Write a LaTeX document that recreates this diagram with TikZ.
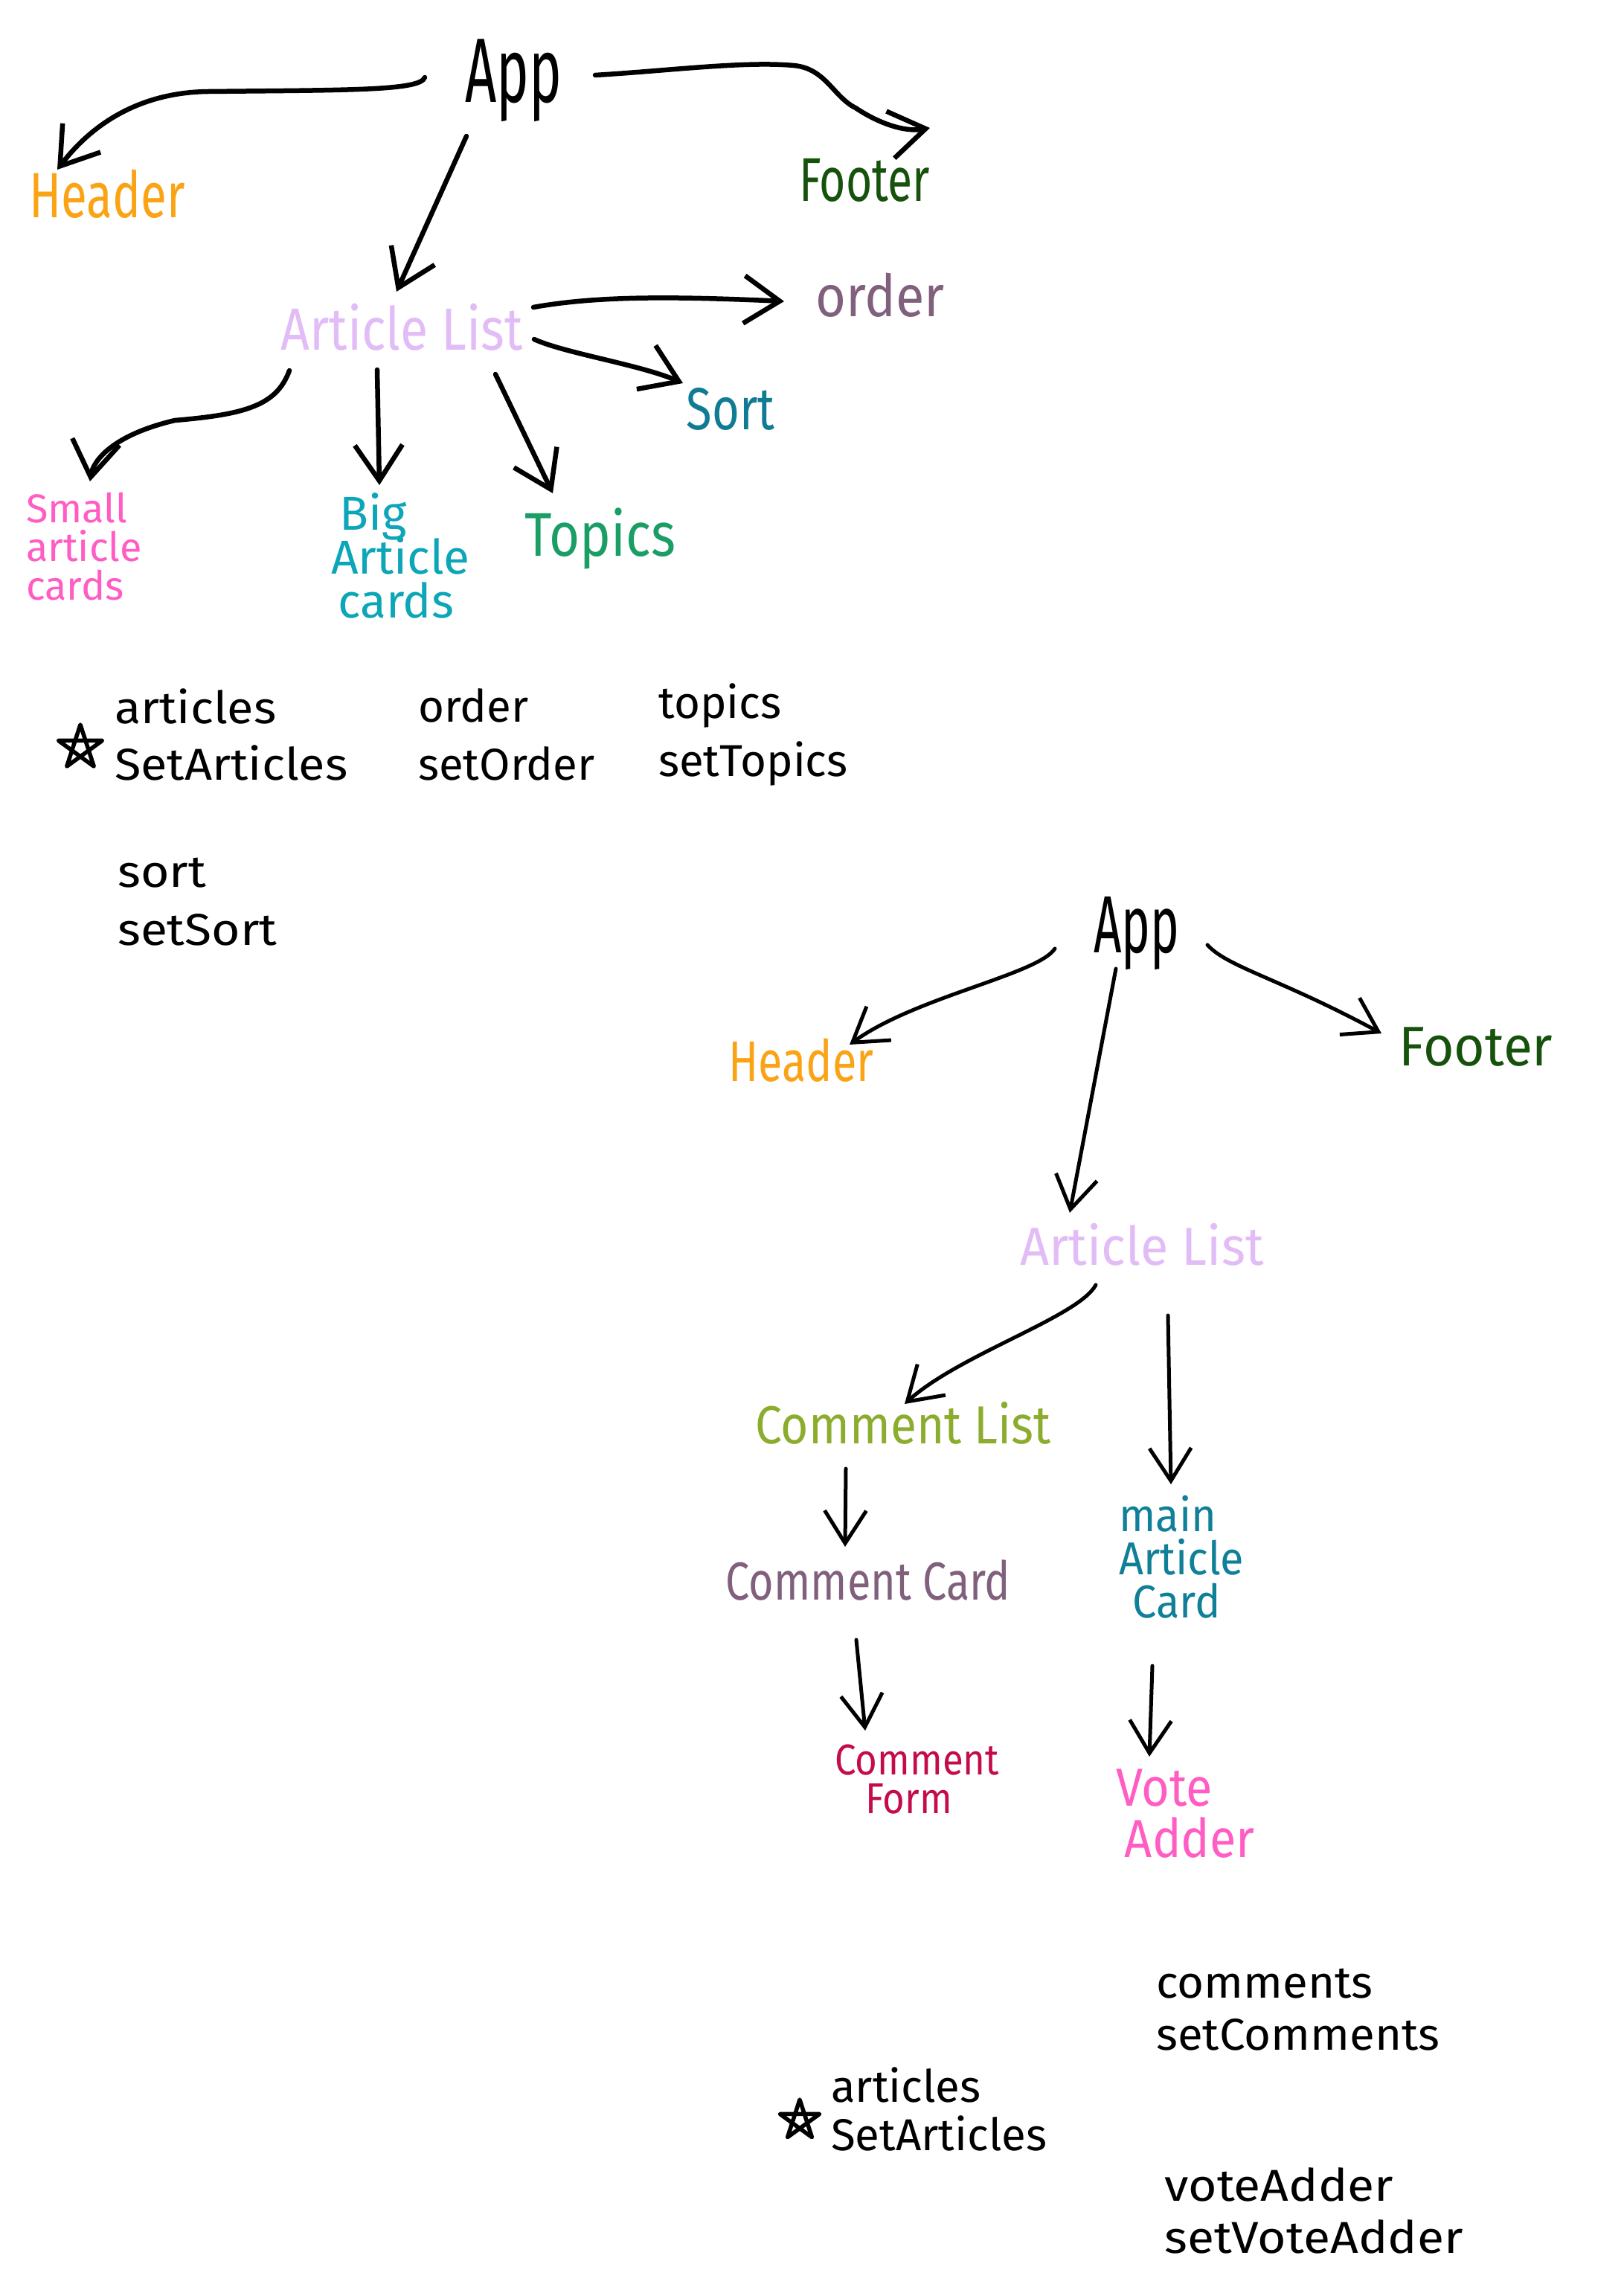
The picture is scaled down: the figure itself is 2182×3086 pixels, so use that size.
\documentclass[tikz,border=0pt]{standalone}
\usepackage{fontspec}
\setmainfont{Fira Sans}
\usetikzlibrary{arrows.meta,calc}
\definecolor{cHeader}{RGB}{250,163,20}
\definecolor{cFooter}{RGB}{22,82,12}
\definecolor{cAL}{RGB}{226,188,246}
\definecolor{cOrder}{RGB}{128,96,124}
\definecolor{cSort}{RGB}{16,124,148}
\definecolor{cPink}{RGB}{255,92,196}
\definecolor{cBig}{RGB}{12,166,184}
\definecolor{cTopics}{RGB}{26,158,102}
\definecolor{cOlive}{RGB}{140,172,46}
\definecolor{cCrimson}{RGB}{196,12,76}
\definecolor{cTeal}{RGB}{16,128,152}
\newcommand\hw[2]{\scalebox{#1}[1]{#2}}
\newcommand\fs[2]{\fontsize{#1}{#2}\selectfont}
\newcommand\stk[2]{\vtop{\baselineskip=#1\lineskiplimit=-1000pt\lineskip=0pt #2}}
\begin{document}
\begin{tikzpicture}[x=1pt,y=-1pt,
  lbl/.style={inner sep=0pt, anchor=base},
  lblw/.style={inner sep=0pt, anchor=base west},
  arrT/.style={line width=6.5pt, line cap=round, line join=round, -{Straight Barb[length=48pt,width=64pt]}},
  arrB/.style={line width=5pt, line cap=round, line join=round, -{Straight Barb[length=44pt,width=56pt]}},
  starpen/.style={line width=5.5pt, line cap=round, line join=round},
]
\fill[white] (0,0) rectangle (2182,3086);
\useasboundingbox (0,0) rectangle (2182,3086);

% ---------- top diagram ----------
\node[lbl, font=\fs{123}{123}] (app1) at (690,137) {\hw{.6}{App}};
\node[lbl, text=cHeader, font=\fs{86}{86}] (hdr1) at (144,292) {\hw{.74}{Header}};
\node[lbl, text=cFooter, font=\fs{83}{83}] (ftr1) at (1162,270) {\hw{.73}{Footer}};
\node[lbl, text=cAL, font=\fs{80}{80}] (al1) at (540,470) {\hw{.85}{Article List}};
\node[lbl, text=cOrder, font=\fs{78}{78}] (ord) at (1183,425) {\hw{.9}{order}};
\node[lbl, text=cSort, font=\fs{80}{80}] (srt) at (982,577) {\hw{.79}{Sort}};
\node[lblw, text=cPink, font=\fs{54}{52}] (sac) at (35,702) {\hw{1.0}{\stk{52pt}{\hbox{Small}\hbox{article}\hbox{cards}}}};
\node[lblw, text=cBig, font=\fs{64}{59}] (bac) at (445,712) {\hw{1.0}{\stk{59pt}{\hbox{\hspace{11pt}Big}\hbox{Article}\hbox{\hspace{9pt}cards}}}};
\node[lbl, text=cTopics, font=\fs{83}{83}] (top) at (807,747) {\hw{.85}{Topics}};

\draw[arrT] ($(app1.base)+(-119,-33)$) .. controls (565,122) and (470,121) .. (280,123) .. controls (190,124) and (125,165) .. ($(hdr1.base)+(-67,-64)$);
\draw[arrT] ($(app1.base)+(110,-36)$) .. controls (900,95) and (1000,82) .. (1067,88) .. controls (1110,92) and (1120,130) .. (1150,145) .. controls (1180,165) and (1215,178) .. ($(ftr1.base)+(88,-98)$);
\draw[arrT] ($(app1.base)+(-63,46)$) -- ($(al1.base)+(-7,-78)$);
\draw[arrT] ($(al1.base)+(177,-57)$) .. controls (800,398) and (900,398) .. ($(ord.base)+(-129,-20)$);
\draw[arrT] ($(al1.base)+(178,-14)$) .. controls (760,475) and (860,490) .. ($(srt.base)+(-64,-62)$);
\draw[arrT] ($(al1.base)+(-151,28)$) .. controls (372,545) and (330,557) .. (235,565) .. controls (150,585) and (125,620) .. ($(sac.base west)+(86,-55)$);
\draw[arrT] ($(al1.base)+(-33,27)$) -- ($(bac.base west)+(65,-60)$);
\draw[arrT] ($(al1.base)+(126,33)$) -- ($(top.base)+(-64,-84)$);

% notes top
\node[lblw, font=\fs{60}{76}] (nA) at (154,972) {\hw{1.08}{\stk{76pt}{\hbox{articles}\hbox{SetArticles}}}};
\node[lblw, font=\fs{60}{78}] (nO) at (562,970) {\hw{1.0}{\stk{78pt}{\hbox{order}\hbox{setOrder}}}};
\node[lblw, font=\fs{60}{78}] (nT) at (885,965) {\hw{1.0}{\stk{78pt}{\hbox{topics}\hbox{setTopics}}}};
\node[lblw, font=\fs{60}{78}] (nS) at (158,1192) {\hw{1.1}{\stk{78pt}{\hbox{sort}\hbox{setSort}}}};
\coordinate (st1) at (108,1005);
\draw[starpen] ($(st1)+(270:31)$) -- ($(st1)+(54:31)$) -- ($(st1)+(198:31)$) -- ($(st1)+(342:31)$) -- ($(st1)+(126:31)$) -- cycle;

% ---------- bottom diagram ----------
\node[lbl, font=\fs{109}{109}] (app2) at (1528,1280) {\hw{.6}{App}};
\node[lbl, text=cHeader, font=\fs{77}{77}] (hdr2) at (1077,1453) {\hw{.77}{Header}};
\node[lbl, text=cFooter, font=\fs{75}{75}] (ftr2) at (1984,1432) {\hw{.95}{Footer}};
\node[lbl, text=cAL, font=\fs{72}{72}] (al2) at (1535,1700) {\hw{.95}{Article List}};
\node[lbl, text=cOlive, font=\fs{72}{72}] (cl) at (1214,1940) {\hw{.89}{Comment List}};
\node[lbl, text=cOrder, font=\fs{72}{72}] (cc) at (1167,2150) {\hw{.8}{Comment Card}};
\node[lblw, text=cCrimson, font=\fs{58}{52}] (cf) at (1122,2385) {\hw{.88}{\stk{52pt}{\hbox{Comment}\hbox{\hspace{47pt}Form}}}};
\node[lblw, text=cTeal, font=\fs{62}{58}] (mac) at (1504,2058) {\hw{.93}{\stk{58pt}{\hbox{main}\hbox{Article}\hbox{\hspace{20pt}Card}}}};
\node[lblw, text=cPink, font=\fs{72}{69}] (va) at (1500,2427) {\hw{.9}{\stk{69pt}{\hbox{Vote}\hbox{\hspace{13pt}Adder}}}};

\draw[arrB] ($(app2.base)+(-110,-5)$) .. controls (1395,1310) and (1230,1340) .. ($(hdr2.base)+(65,-49)$);
\draw[arrB] ($(app2.base)+(95,-10)$) .. controls (1650,1300) and (1720,1315) .. ($(ftr2.base)+(-127,-43)$);
\draw[arrB] ($(app2.base)+(-28,22)$) -- ($(al2.base)+(-97,-70)$);
\draw[arrB] ($(al2.base)+(-62,27)$) .. controls (1450,1770) and (1290,1820) .. ($(cl.base)+(2,-53)$);
\draw[arrB] ($(al2.base)+(35,68)$) -- ($(mac.base west)+(70,-63)$);
\draw[arrB] ($(cl.base)+(-77,34)$) -- ($(cc.base)+(-31,-71)$);
\draw[arrB] ($(cc.base)+(-16,54)$) -- ($(cf.base west)+(41,-59)$);
\draw[arrB] ($(mac.base west)+(45,181)$) -- ($(va.base west)+(45,-66)$);

% notes bottom
\node[lblw, font=\fs{60}{70}] (nC) at (1554,2685) {\hw{1.03}{\stk{70pt}{\hbox{comments}\hbox{setComments}}}};
\node[lblw, font=\fs{60}{65}] (nA2) at (1117,2825) {\hw{1.0}{\stk{65pt}{\hbox{articles}\hbox{SetArticles}}}};
\node[lblw, font=\fs{60}{70}] (nV) at (1565,2958) {\hw{1.1}{\stk{70pt}{\hbox{voteAdder}\hbox{setVoteAdder}}}};
\coordinate (st2) at (1075,2850);
\draw[starpen] ($(st2)+(270:28)$) -- ($(st2)+(54:28)$) -- ($(st2)+(198:28)$) -- ($(st2)+(342:28)$) -- ($(st2)+(126:28)$) -- cycle;
\end{tikzpicture}
\end{document}
